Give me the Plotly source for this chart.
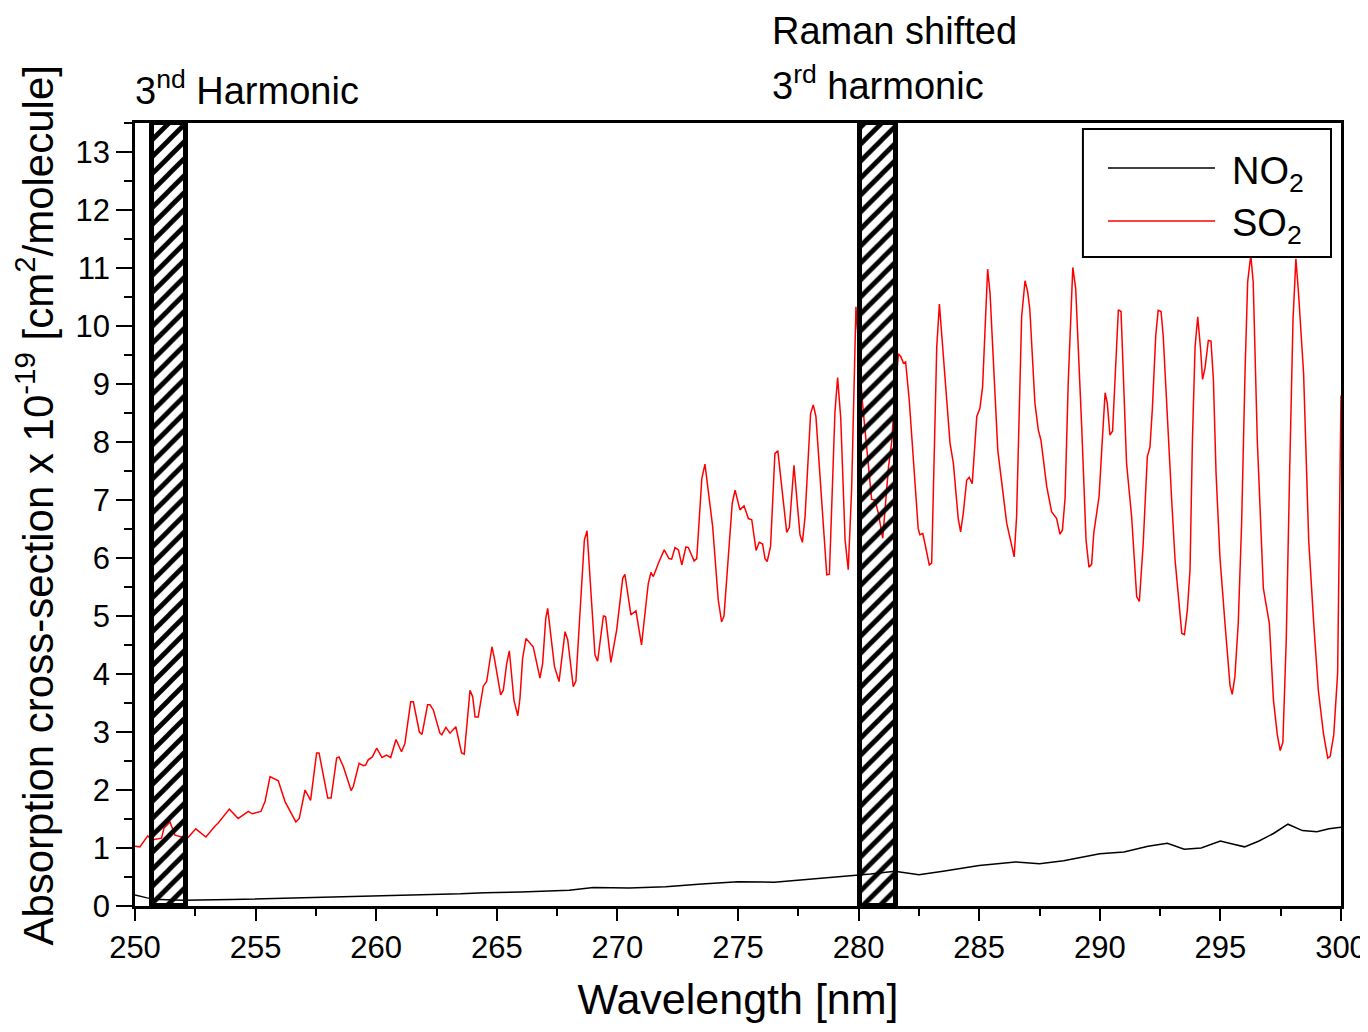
import plotly.graph_objects as go

# ---------------- data ----------------
so2_wl = [250.0, 250.2, 250.53, 250.69, 251.1, 251.2, 251.45, 251.66, 251.94, 252.2, 252.52, 252.94,
          253.32, 253.45, 253.91, 254.28, 254.7, 254.86, 255.22, 255.39, 255.6, 255.94, 256.22, 256.67,
          256.81, 257.05, 257.28, 257.53, 257.63, 257.99, 258.13, 258.36, 258.46, 258.64, 258.96, 259.05,
          259.29, 259.47, 259.56, 259.67, 259.84, 260.02, 260.24, 260.43, 260.6, 260.82, 261.05, 261.19,
          261.43, 261.54, 261.79, 261.9, 262.13, 262.23, 262.37, 262.64, 262.72, 262.89, 263.06, 263.3,
          263.54, 263.65, 263.89, 264.0, 264.1, 264.23, 264.44, 264.58, 264.8, 264.9, 265.16, 265.27,
          265.41, 265.52, 265.71, 265.87, 265.96, 266.07, 266.21, 266.51, 266.79, 266.9, 267.03, 267.11,
          267.39, 267.58, 267.83, 267.94, 268.17, 268.28, 268.63, 268.74, 269.07, 269.18, 269.42, 269.51,
          269.73, 269.97, 270.22, 270.31, 270.56, 270.77, 271.0, 271.28, 271.39, 271.49, 271.7, 271.94,
          272.14, 272.25, 272.39, 272.53, 272.67, 272.84, 272.94, 273.18, 273.29, 273.5, 273.63, 273.95,
          274.18, 274.32, 274.42, 274.76, 274.88, 275.08, 275.25, 275.43, 275.57, 275.75, 275.88, 276.02,
          276.12, 276.21, 276.35, 276.53, 276.65, 277.02, 277.13, 277.32, 277.57, 277.67, 277.78, 278.01,
          278.12, 278.23, 278.44, 278.68, 278.79, 279.02, 279.13, 279.26, 279.44, 279.57, 279.71, 279.89,
          280.15, 280.33, 280.54, 280.68, 280.82, 281.0, 281.1, 281.24, 281.38, 281.47, 281.65, 281.75,
          281.86, 281.95, 282.1, 282.47, 282.54, 282.66, 282.75, 282.93, 283.03, 283.24, 283.35, 283.62,
          283.79, 283.93, 284.13, 284.23, 284.34, 284.48, 284.59, 284.71, 284.9, 285.03, 285.14, 285.35,
          285.45, 285.77, 286.14, 286.45, 286.55, 286.76, 286.9, 287.01, 287.1, 287.31, 287.45, 287.56,
          287.8, 288.0, 288.21, 288.35, 288.45, 288.56, 288.69, 288.88, 289.0, 289.25, 289.43, 289.55,
          289.66, 289.75, 289.97, 290.08, 290.22, 290.31, 290.42, 290.53, 290.77, 290.88, 291.11, 291.32,
          291.53, 291.64, 291.8, 291.97, 292.08, 292.18, 292.32, 292.42, 292.54, 292.63, 292.84, 292.98,
          293.12, 293.26, 293.4, 293.51, 293.63, 293.74, 293.84, 293.95, 294.06, 294.18, 294.26, 294.36,
          294.5, 294.61, 294.71, 294.82, 294.98, 295.19, 295.4, 295.49, 295.6, 295.74, 295.88, 296.02,
          296.13, 296.26, 296.36, 296.53, 296.78, 297.03, 297.2, 297.36, 297.48, 297.59, 297.73, 297.87,
          298.01, 298.13, 298.24, 298.45, 298.66, 298.87, 299.06, 299.27, 299.45, 299.55, 299.7, 299.86,
          299.93, 300.0]
so2_xs = [1.03, 1.02, 1.21, 1.14, 1.17, 1.34, 1.45, 1.22, 1.19, 1.18, 1.33, 1.19,
          1.38, 1.43, 1.67, 1.51, 1.63, 1.59, 1.63, 1.80, 2.23, 2.16, 1.80, 1.45,
          1.51, 2.0, 1.82, 2.64, 2.64, 1.86, 1.86, 2.55, 2.57, 2.40, 1.99, 2.06,
          2.46, 2.42, 2.43, 2.52, 2.57, 2.72, 2.56, 2.60, 2.56, 2.87, 2.66, 2.80,
          3.52, 3.52, 3.0, 2.96, 3.47, 3.47, 3.38, 2.98, 2.95, 3.08, 2.98, 3.09,
          2.64, 2.62, 3.72, 3.61, 3.26, 3.26, 3.79, 3.87, 4.47, 4.27, 3.64, 3.72,
          4.18, 4.40, 3.55, 3.28, 3.58, 4.27, 4.61, 4.47, 3.93, 4.18, 4.96, 5.13,
          4.13, 3.87, 4.73, 4.59, 3.78, 3.88, 6.31, 6.47, 4.33, 4.22, 5.0, 4.99,
          4.2, 4.76, 5.65, 5.72, 5.02, 5.09, 4.5, 5.56, 5.75, 5.68, 5.91, 6.14,
          5.99, 5.98, 6.18, 6.14, 5.88, 6.19, 6.18, 5.95, 5.99, 7.37, 7.62, 6.54,
          5.28, 4.9, 5.0, 6.94, 7.17, 6.83, 6.9, 6.68, 6.66, 6.13, 6.27, 6.24,
          5.99, 5.94, 6.2, 7.8, 7.85, 6.44, 6.53, 7.6, 6.4, 6.27, 6.71, 8.49,
          8.64, 8.44, 7.17, 5.71, 5.72, 8.52, 9.11, 8.41, 6.31, 5.8, 7.17, 10.33,
          8.72, 7.92, 7.01, 7.0, 6.77, 6.34, 6.88, 7.57, 8.03, 8.67, 9.52, 9.47,
          9.36, 9.38, 8.72, 6.51, 6.4, 6.42, 6.25, 5.88, 5.91, 9.64, 10.38, 8.98,
          7.98, 7.63, 6.68, 6.45, 6.77, 7.34, 7.39, 7.28, 8.44, 8.58, 8.95, 10.98,
          10.56, 7.86, 6.6, 6.02, 6.71, 10.16, 10.78, 10.59, 10.28, 8.67, 8.21, 8.03,
          7.23, 6.8, 6.68, 6.41, 6.48, 7.03, 9.01, 11.01, 10.65, 8.26, 6.31, 5.84,
          5.89, 6.43, 7.06, 7.86, 8.85, 8.67, 8.12, 8.19, 10.28, 10.25, 7.63, 6.71,
          5.33, 5.25, 6.25, 7.75, 7.91, 8.58, 9.84, 10.27, 10.25, 9.82, 8.03, 7.0,
          5.97, 5.28, 4.7, 4.68, 5.10, 5.79, 8.03, 9.64, 10.16, 9.59, 9.08, 9.27,
          9.75, 9.74, 9.07, 7.46, 6.02, 4.87, 3.8, 3.65, 3.95, 4.87, 6.6, 9.18,
          10.76, 11.22, 10.76, 8.03, 5.48, 4.87, 3.55, 2.95, 2.68, 2.82, 4.59, 7.46,
          10.1, 11.16, 10.56, 9.18, 6.31, 4.87, 3.72, 2.98, 2.55, 2.58, 2.95, 4.01,
          6.31, 8.8]

no2_wl = [250.0, 250.5, 251.0, 252.0, 254.0, 256.0, 258.0, 260.0, 262.0, 263.5, 264.5, 266.0,
          268.0, 269.0, 270.5, 272.0, 273.5, 275.0, 276.5, 278.0, 279.5, 280.5, 281.5, 282.5,
          283.5, 285.0, 286.5, 287.5, 288.5, 290.0, 291.0, 292.0, 292.8, 293.5, 294.2, 295.0,
          295.5, 296.0, 296.6, 297.2, 297.8, 298.4, 299.0, 299.5, 300.0]
no2_xs = [0.19, 0.14, 0.11, 0.10, 0.11, 0.13, 0.15, 0.17, 0.19, 0.21, 0.23, 0.24,
          0.27, 0.32, 0.31, 0.33, 0.38, 0.42, 0.41, 0.46, 0.52, 0.55, 0.60, 0.54,
          0.60, 0.70, 0.76, 0.73, 0.78, 0.90, 0.93, 1.03, 1.08, 0.98, 1.00, 1.12,
          1.07, 1.02, 1.12, 1.25, 1.41, 1.30, 1.28, 1.33, 1.36]

band_start = [250.70, 280.04]
band_end = [252.10, 281.53]
band_top = 13.5

x_ticks = [250, 255, 260, 265, 270, 275, 280, 285, 290, 295, 300]
y_ticks = list(range(0, 14))

FONT = "Liberation Sans, Arial, sans-serif"

fig = go.Figure()

fig.add_trace(go.Scatter(x=no2_wl, y=no2_xs, mode="lines",
                         line=dict(color="black", width=1.5), showlegend=False))
fig.add_trace(go.Scatter(x=so2_wl, y=so2_xs, mode="lines",
                         line=dict(color="#ff0000", width=1.5), showlegend=False))

# hatched bands on an overlay subplot so they sit above the curves
centers = [(a + b) / 2 for a, b in zip(band_start, band_end)]
widths = [b - a for a, b in zip(band_start, band_end)]
fig.add_trace(go.Bar(x=centers, y=[band_top] * len(centers), width=widths, base=0,
                     xaxis="x2", yaxis="y2", showlegend=False,
                     marker=dict(color="black",
                                 line=dict(color="black", width=5),
                                 pattern=dict(shape="/", fgcolor="black",
                                              bgcolor="rgba(255,255,255,0)",
                                              size=12, solidity=0.4,
                                              fillmode="replace"))))

axis_common = dict(showline=True, linecolor="black", linewidth=2.5, mirror=True,
                   showgrid=False, zeroline=False, ticks="outside", tickcolor="black",
                   tickwidth=2, automargin=False,
                   tickfont=dict(family=FONT, size=31, color="black"))

# page body has an 8px margin, so the figure is 8px smaller and margins shifted
fig.update_layout(
    width=1360, height=1024,
    margin=dict(l=127, r=27, t=115, b=126, autoexpand=False),
    paper_bgcolor="white", plot_bgcolor="white",
    showlegend=False,
    xaxis=dict(range=[250, 300], tickvals=x_ticks, ticklen=12,
               minor=dict(dtick=2.5, tick0=250, ticklen=7, tickwidth=2, tickcolor="black",
                          ticks="outside"),
               title=dict(text="Wavelength [nm]", font=dict(family=FONT, size=43, color="black"),
                          standoff=20),
               **axis_common),
    yaxis=dict(range=[0, 13.5], tickvals=y_ticks, ticklen=16,
               minor=dict(dtick=0.5, tick0=0, ticklen=8, tickwidth=2, tickcolor="black",
                          ticks="outside"),
               **axis_common),
    xaxis2=dict(range=[250, 300], overlaying="x", visible=False),
    yaxis2=dict(range=[0, 13.5], overlaying="y", visible=False),
    bargap=0,
)

# y-axis title as a rotated annotation
fig.add_annotation(xref="paper", yref="paper", x=-0.0825, y=0.512, xanchor="center", yanchor="middle",
                   textangle=-90, showarrow=False,
                   text="Absorption cross-section x 10<sup>-19</sup> [cm<sup>2</sup>/molecule]",
                   font=dict(family=FONT, size=42, color="black"))

# manual legend
fig.add_shape(type="rect", xref="paper", yref="paper", x0=0.786, x1=0.9917, y0=0.8289, y1=0.9923,
              line=dict(color="black", width=2), fillcolor="white", layer="above")
fig.add_shape(type="line", xref="paper", yref="paper", x0=0.8068, x1=0.8955, y0=0.9425, y1=0.9425,
              line=dict(color="black", width=1.5), layer="above")
fig.add_shape(type="line", xref="paper", yref="paper", x0=0.8068, x1=0.8955, y0=0.8748, y1=0.8748,
              line=dict(color="#ff0000", width=1.5), layer="above")
fig.add_annotation(xref="paper", yref="paper", x=0.908, y=0.935, xanchor="left", yanchor="middle",
                   text="NO<sub>2</sub>", showarrow=False,
                   font=dict(family=FONT, size=38, color="black"))
fig.add_annotation(xref="paper", yref="paper", x=0.908, y=0.868, xanchor="left", yanchor="middle",
                   text="SO<sub>2</sub>", showarrow=False,
                   font=dict(family=FONT, size=38, color="black"))

# band labels
fig.add_annotation(xref="paper", yref="paper", x=-0.0017, y=1.0447, xanchor="left", yanchor="middle",
                   text="3<sup>nd</sup> Harmonic", showarrow=False,
                   font=dict(family=FONT, size=38, color="black"))
fig.add_annotation(xref="paper", yref="paper", x=0.5265, y=1.118, xanchor="left", yanchor="middle",
                   text="Raman shifted", showarrow=False,
                   font=dict(family=FONT, size=38, color="black"))
fig.add_annotation(xref="paper", yref="paper", x=0.5265, y=1.051, xanchor="left", yanchor="middle",
                   text="3<sup>rd</sup> harmonic", showarrow=False,
                   font=dict(family=FONT, size=38, color="black"))

fig.write_html("out.html")
